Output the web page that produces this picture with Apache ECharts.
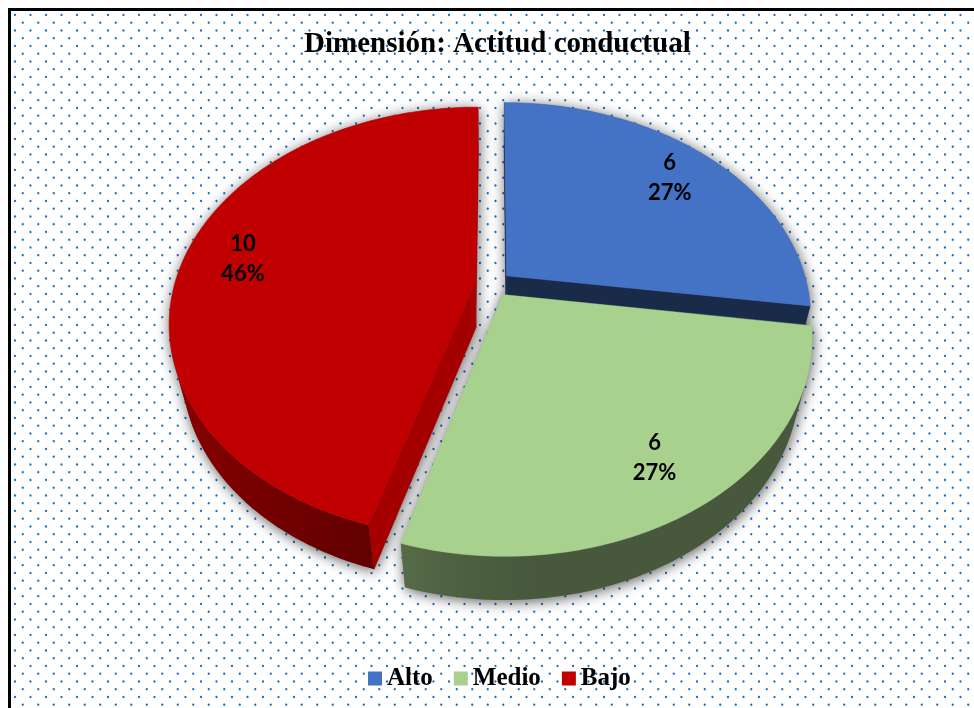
<!DOCTYPE html>
<html><head><meta charset="utf-8">
<script src="https://cdn.jsdelivr.net/npm/echarts@6/dist/echarts.min.js"></script>
<style>html,body{margin:0;padding:0;background:#fff}#c{width:974px;height:708px}</style>
</head><body><div id="c"></div>
<script>
// ---- data ----
const titleText = 'Dimensión: Actitud conductual';
const categories = ['Alto', 'Medio', 'Bajo'];
const values = [6, 6, 10];
const percentLabels = ['27%', '27%', '46%'];
const colors = ['#4472C4', '#A9D18E', '#C00000'];

// ---- 3D view settings (layout only) ----
const VIEW = { cx: 493, cy: 284, F: 1160, D: 3.86, elev: 43.9, H: 0.22, explode: 0.06, labelR: 0.8 };
const sinE = Math.sin(VIEW.elev * Math.PI / 180), cosE = Math.cos(VIEW.elev * Math.PI / 180);
const cam = [0, VIEW.D * sinE, VIEW.D * cosE];
function proj(p) {
  const up = p[1] * cosE - p[2] * sinE;
  const dep = VIEW.D - (p[2] * cosE + p[1] * sinE);
  return [VIEW.cx + VIEW.F * p[0] / dep, VIEW.cy - VIEW.F * up / dep];
}
function camDist(p) { return Math.hypot(p[0] - cam[0], p[1] - cam[1], p[2] - cam[2]); }
function facing(n, p) { return n[0] * (cam[0] - p[0]) + n[1] * (cam[1] - p[1]) + n[2] * (cam[2] - p[2]) > 0; }
function shade(hex, f) {
  const r = parseInt(hex.slice(1, 3), 16), g = parseInt(hex.slice(3, 5), 16), b = parseInt(hex.slice(5, 7), 16);
  return 'rgb(' + Math.round(r * f) + ',' + Math.round(g * f) + ',' + Math.round(b * f) + ')';
}
function avg(pts) { const s = [0, 0, 0]; pts.forEach(p => { s[0] += p[0]; s[1] += p[1]; s[2] += p[2]; }); return s.map(v => v / pts.length); }

const total = values.reduce((a, b) => a + b, 0);
const angles = [];
(function () { let acc = 0; values.forEach(v => { const a0 = acc / total * 2 * Math.PI; acc += v; angles.push([a0, acc / total * 2 * Math.PI]); }); })();

const SHADOW = { shadowBlur: 14, shadowColor: 'rgba(0,0,0,0.65)', shadowOffsetX: 1, shadowOffsetY: 2 };

function renderSlice(i) {
  return function (params, api) {
    const col = colors[i];
    const a0 = angles[i][0], a1 = angles[i][1], mid = (a0 + a1) / 2;
    const H = VIEW.H;
    const E = [VIEW.explode * Math.sin(mid), 0, -VIEW.explode * Math.cos(mid)];
    const rim = (t, y) => [E[0] + Math.sin(t), y, E[2] - Math.cos(t)];
    const apexT = [E[0], 0, E[2]], apexB = [E[0], -H, E[2]];
    const children = [];
    const faces = [];
    const radial = [[a0, [-Math.cos(a0), 0, -Math.sin(a0)]], [a1, [Math.cos(a1), 0, Math.sin(a1)]]];
    radial.forEach(([a, n]) => {
      const pts = [apexT, rim(a, 0), rim(a, -H), apexB];
      const c = avg(pts);
      if (facing(n, c)) {
        faces.push({ pts: pts.map(proj), fill: shade(col, 0.38 + 0.5 * Math.max(0, n[0])), depth: camDist(c) });
      }
    });
    const N = Math.max(8, Math.ceil((a1 - a0) / (Math.PI / 180)));
    const ts = []; for (let k = 0; k <= N; k++) ts.push(a0 + (a1 - a0) * k / N);
    let run = [];
    const runs = [];
    for (let k = 0; k < N; k++) {
      const tm = (ts[k] + ts[k + 1]) / 2;
      const n = [Math.sin(tm), 0, -Math.cos(tm)];
      if (facing(n, rim(tm, -H / 2))) { if (!run.length) run.push(ts[k]); run.push(ts[k + 1]); }
      else if (run.length) { runs.push(run); run = []; }
    }
    if (run.length) runs.push(run);
    runs.forEach(r => {
      const top = r.map(t => proj(rim(t, 0)));
      const bot = r.map(t => proj(rim(t, -H))).reverse();
      const xs = top[0][0], xe = top[top.length - 1][0];
      const stops = [];
      const M = 8;
      for (let k = 0; k <= M; k++) {
        const t = r[0] + (r[r.length - 1] - r[0]) * k / M;
        const x = proj(rim(t, 0))[0];
        const off = Math.abs(xe - xs) < 1e-6 ? k / M : (x - xs) / (xe - xs);
        stops.push({ offset: Math.min(1, Math.max(0, off)), color: shade(col, 0.42 + 0.32 * Math.max(0, -Math.sin(t))) });
      }
      const c = avg([rim(r[0], -H / 2), rim(r[r.length - 1], -H / 2), rim(r[Math.floor(r.length / 2)], -H / 2)]);
      faces.push({ pts: top.concat(bot), fill: { type: 'linear', x: xs, y: 0, x2: xe, y2: 0, global: true, colorStops: stops }, depth: camDist(c) });
    });
    const topPts = [proj(apexT)].concat(ts.map(t => proj(rim(t, 0))));
    faces.concat([{ pts: topPts }]).forEach(f => {
      children.push({ type: 'polygon', z2: 1, shape: { points: f.pts }, style: Object.assign({ fill: '#888' }, SHADOW) });
    });
    faces.forEach(f => {
      children.push({ type: 'polygon', z2: Math.round(600 - f.depth * 100), shape: { points: f.pts }, style: { fill: f.fill, stroke: f.fill.type ? null : f.fill, lineWidth: 0.5 } });
    });
    children.push({ type: 'polygon', z2: 1000, shape: { points: topPts }, style: { fill: col, stroke: col, lineWidth: 0.5 } });
    const lp = proj([E[0] + VIEW.labelR * Math.sin(mid), 0, E[2] - VIEW.labelR * Math.cos(mid)]);
    children.push({
      type: 'text', z2: 1100,
      style: { text: values[i] + '\n' + percentLabels[i], x: lp[0], y: lp[1], align: 'center', verticalAlign: 'middle',
        fill: '#000', fontFamily: 'Lato', fontWeight: 'bold', fontSize: 22, lineHeight: 30 }
    });
    return { type: 'group', children };
  };
}

// dotted background tile
const tile = document.createElement('canvas');
tile.width = 31; tile.height = 31;
(function () {
  const g = tile.getContext('2d');
  g.fillStyle = '#1672c6';
  const base = [[15, 15], [30.5, 15], [15, 30.5], [30.5, 30.5], [22.75, 22.75], [7.25, 22.75], [22.75, 7.25], [7.25, 7.25]];
  base.forEach(([x, y]) => {
    for (let dx = -31; dx <= 31; dx += 31) for (let dy = -31; dy <= 31; dy += 31) {
      g.beginPath(); g.arc(x + dx, y + dy, 1.15, 0, Math.PI * 2); g.fill();
    }
  });
})();

const chart = echarts.init(document.getElementById('c'), null, { renderer: 'canvas' });
chart.setOption({
  backgroundColor: '#ffffff',
  animation: false,
  title: {
    text: titleText, left: 304, top: 30, padding: 0,
    textStyle: { fontFamily: 'Liberation Serif', fontWeight: 'bold', fontSize: 29, color: '#000' }
  },
  legend: {
    data: categories, left: 368, top: 666, padding: 0, icon: 'rect', itemWidth: 14, itemHeight: 14, itemGap: 21,
    textStyle: { fontFamily: 'Liberation Serif', fontWeight: 'bold', fontSize: 25, color: '#000' }
  },
  graphic: [
    { type: 'rect', z: -10, silent: true, shape: { x: 11, y: 11, width: 963, height: 697 }, style: { fill: { image: tile, repeat: 'repeat' } } },
    { type: 'polyline', z: -9, silent: true, shape: { points: [[9.5, 708], [9.5, 9.5], [974, 9.5]] }, style: { stroke: '#000', lineWidth: 3, fill: null } }
  ],
  series: categories.map((name, i) => ({
    type: 'custom', name, coordinateSystem: 'none', silent: true, animation: false,
    itemStyle: { color: colors[i] },
    data: [[values[i]]],
    renderItem: renderSlice(i)
  }))
});
</script></body></html>
